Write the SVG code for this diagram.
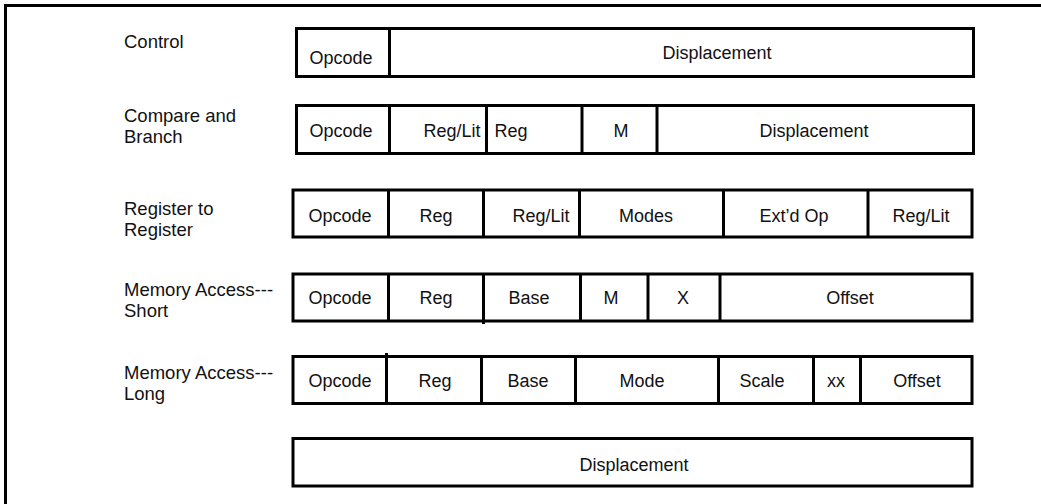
<svg xmlns="http://www.w3.org/2000/svg" width="1041" height="504" viewBox="0 0 1041 504">
<style>
.box{fill:#fff;stroke:#000;stroke-width:3}
.div{stroke:#000;stroke-width:3;fill:none}
.lbl{font-family:"Liberation Sans",Arial,sans-serif;font-size:18.5px;fill:#111}
.fld{font-family:"Liberation Sans",Arial,sans-serif;font-size:18px;fill:#111;text-anchor:middle}
</style>
<rect width="1041" height="504" fill="#fff"/>
<path class="div" d="M5.5,504 V5.5 H1041"/>
<g id="connectors"/>
<g id="row-control">
<text class="lbl" x="124" y="48">Control</text>
<rect class="box" x="296.5" y="28.5" width="677" height="48"/>
<line class="div" x1="389.5" y1="28.5" x2="389.5" y2="76.5"/>
<text class="fld" x="341" y="63.5">Opcode</text>
<text class="fld" x="717" y="58.5">Displacement</text>
</g>
<g id="row-compare">
<text class="lbl" x="124" y="122">Compare and</text>
<text class="lbl" x="124" y="143">Branch</text>
<rect class="box" x="296.5" y="105.5" width="677" height="48"/>
<line class="div" x1="389.5" y1="105.5" x2="389.5" y2="153.5"/>
<line class="div" x1="486.5" y1="105.5" x2="486.5" y2="153.5"/>
<line class="div" x1="582" y1="105.5" x2="582" y2="153.5"/>
<line class="div" x1="657" y1="105.5" x2="657" y2="153.5"/>
<text class="fld" x="341" y="136.5">Opcode</text>
<text class="fld" x="452" y="136.5">Reg/Lit</text>
<text class="fld" x="511" y="136.5">Reg</text>
<text class="fld" x="621" y="136.5">M</text>
<text class="fld" x="814" y="136.5">Displacement</text>
</g>
<g id="row-register">
<text class="lbl" x="124" y="215">Register to</text>
<text class="lbl" x="124" y="236">Register</text>
<rect class="box" x="293" y="190" width="679" height="47"/>
<line class="div" x1="388.5" y1="190" x2="388.5" y2="237"/>
<line class="div" x1="483.5" y1="190" x2="483.5" y2="237"/>
<line class="div" x1="579.5" y1="190" x2="579.5" y2="237"/>
<line class="div" x1="723.5" y1="190" x2="723.5" y2="237"/>
<line class="div" x1="868" y1="190" x2="868" y2="237"/>
<text class="fld" x="340" y="221.5">Opcode</text>
<text class="fld" x="436" y="221.5">Reg</text>
<text class="fld" x="541" y="221.5">Reg/Lit</text>
<text class="fld" x="646" y="221.5">Modes</text>
<text class="fld" x="794" y="221.5">Ext’d Op</text>
<text class="fld" x="921" y="221.5">Reg/Lit</text>
</g>
<g id="row-mem-short">
<text class="lbl" x="124" y="296">Memory Access---</text>
<text class="lbl" x="124" y="317">Short</text>
<rect class="box" x="293" y="274" width="679" height="47"/>
<line class="div" x1="388.5" y1="274" x2="388.5" y2="321"/>
<line class="div" x1="483.5" y1="274" x2="483.5" y2="324"/>
<line class="div" x1="580.5" y1="274" x2="580.5" y2="321"/>
<line class="div" x1="648" y1="274" x2="648" y2="321"/>
<line class="div" x1="720" y1="274" x2="720" y2="321"/>
<text class="fld" x="340" y="303.5">Opcode</text>
<text class="fld" x="436" y="303.5">Reg</text>
<text class="fld" x="529" y="303.5">Base</text>
<text class="fld" x="611" y="303.5">M</text>
<text class="fld" x="683" y="303.5">X</text>
<text class="fld" x="850" y="303.5">Offset</text>
</g>
<g id="row-mem-long">
<text class="lbl" x="124" y="379">Memory Access---</text>
<text class="lbl" x="124" y="400">Long</text>
<rect class="box" x="293" y="356.5" width="679" height="47"/>
<line class="div" x1="386.5" y1="353" x2="386.5" y2="403.5"/>
<line class="div" x1="481.5" y1="356.5" x2="481.5" y2="403.5"/>
<line class="div" x1="575.5" y1="356.5" x2="575.5" y2="403.5"/>
<line class="div" x1="718.5" y1="356.5" x2="718.5" y2="403.5"/>
<line class="div" x1="813.5" y1="356.5" x2="813.5" y2="403.5"/>
<line class="div" x1="860.5" y1="356.5" x2="860.5" y2="403.5"/>
<text class="fld" x="340" y="386.5">Opcode</text>
<text class="fld" x="435" y="386.5">Reg</text>
<text class="fld" x="528" y="386.5">Base</text>
<text class="fld" x="642" y="386.5">Mode</text>
<text class="fld" x="762" y="386.5">Scale</text>
<text class="fld" x="836" y="386.5">xx</text>
<text class="fld" x="917" y="386.5">Offset</text>
</g>
<g id="row-displacement">
<rect class="box" x="293" y="438.5" width="679" height="47.5"/>
<text class="fld" x="634" y="470.5">Displacement</text>
</g>
</svg>
